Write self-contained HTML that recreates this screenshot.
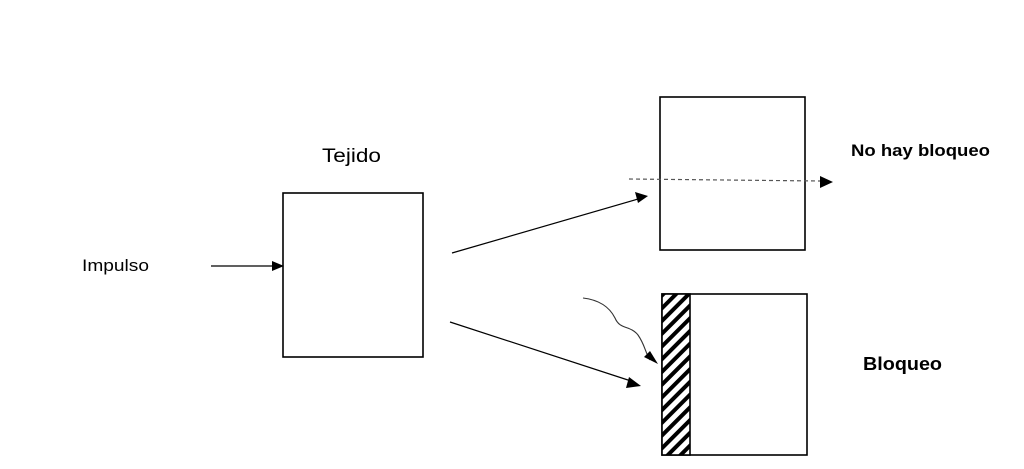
<!DOCTYPE html>
<html><head><style>body{margin:0;background:#fff}svg{display:block}</style></head><body>
<svg width="1024" height="469" viewBox="0 0 1024 469" xmlns="http://www.w3.org/2000/svg">
<defs>
<pattern id="h" width="9" height="9" patternUnits="userSpaceOnUse" patternTransform="rotate(45)">
<rect width="9" height="9" fill="#fff"/><rect width="4" height="9" fill="#000"/></pattern>
</defs>
<g fill="none" stroke="#000" stroke-width="1.6">
<rect x="283" y="193" width="140" height="164"/>
<rect x="660" y="97" width="145" height="153"/>
<rect x="662" y="294" width="145" height="161"/>
</g>
<rect x="662" y="294" width="28" height="161" fill="url(#h)" stroke="#000" stroke-width="1.6"/>
<g stroke="#000" stroke-width="1.2">
<line x1="211" y1="266" x2="274" y2="266"/>
<line x1="452" y1="253" x2="638" y2="199"/>
<line x1="450" y1="322" x2="631" y2="381"/>
</g>
<line x1="629" y1="179" x2="820" y2="181" stroke="#555" stroke-width="1.2" stroke-dasharray="4,3"/>
<path d="M583 298 C600 300 610 308 615 318 C620 330 630 325 638 335 C645 345 645 352 650 360" fill="none" stroke="#333" stroke-width="1.1"/>
<g fill="#000">
<polygon points="284,266 272,261 272,271"/>
<polygon points="648,196 635,192 638,203"/>
<polygon points="641,386 629,377 626,388"/>
<polygon points="833,182 820,176 820,188"/>
<polygon points="658,364 650,351 644,357"/>
</g>
<g font-family="Liberation Sans, sans-serif" fill="#000">
<text x="82" y="271" font-size="17" textLength="67" lengthAdjust="spacingAndGlyphs">Impulso</text>
<text x="322" y="162" font-size="19" textLength="59" lengthAdjust="spacingAndGlyphs">Tejido</text>
<text x="851" y="156" font-size="17" font-weight="bold" textLength="139" lengthAdjust="spacingAndGlyphs">No hay bloqueo</text>
<text x="863" y="370" font-size="18" font-weight="bold" textLength="79" lengthAdjust="spacingAndGlyphs">Bloqueo</text>
</g>
</svg>
</body></html>
